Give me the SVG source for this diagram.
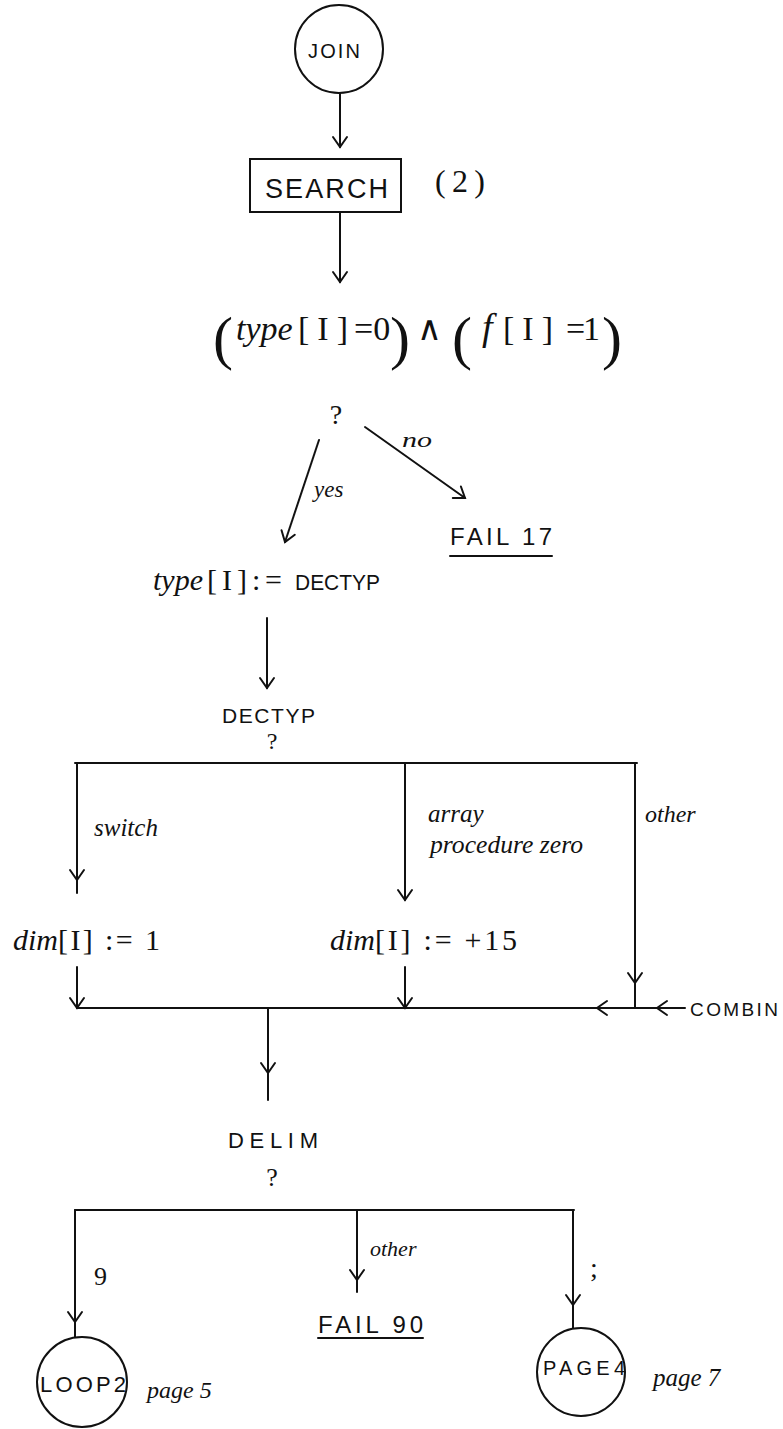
<svg xmlns="http://www.w3.org/2000/svg" width="783" height="1429" viewBox="0 0 783 1429">
<style>
.ln{stroke:#111;stroke-width:2;fill:none;stroke-linecap:round}
.nd{stroke:#111;stroke-width:2;fill:none}
.cap{font-family:"Liberation Sans",Arial,sans-serif;fill:#111}
.hw{font-family:"Liberation Serif","Times New Roman",serif;font-style:italic;fill:#111}
.mt{font-family:"Liberation Serif","Times New Roman",serif;fill:#111}
</style>
<defs>
<marker id="ah" viewBox="-12 -9 14 18" markerWidth="14" markerHeight="18" refX="0" refY="0" orient="auto" markerUnits="userSpaceOnUse">
<path d="M-10,-7 L0,0 L-10,7" fill="none" stroke="#111" stroke-width="2" stroke-linecap="round"/>
</marker>
</defs>
<rect width="783" height="1429" fill="#fff"/>

<g id="connectors">
<line class="ln" x1="340" y1="93" x2="340" y2="147" marker-end="url(#ah)"/>
<line class="ln" x1="340" y1="212" x2="340" y2="282" marker-end="url(#ah)"/>
<line class="ln" x1="319" y1="440" x2="285" y2="542" marker-end="url(#ah)"/>
<line class="ln" x1="365" y1="427" x2="465" y2="498" marker-end="url(#ah)"/>
<line class="ln" x1="267" y1="618" x2="267" y2="688" marker-end="url(#ah)"/>
<line class="ln" x1="75" y1="763" x2="637" y2="763"/>
<line class="ln" x1="77" y1="763" x2="77" y2="880" marker-end="url(#ah)"/>
<line class="ln" x1="77" y1="880" x2="77" y2="893"/>
<line class="ln" x1="405" y1="763" x2="405" y2="900" marker-end="url(#ah)"/>
<line class="ln" x1="635" y1="763" x2="635" y2="983" marker-end="url(#ah)"/>
<line class="ln" x1="635" y1="983" x2="635" y2="1008"/>
<line class="ln" x1="77" y1="967" x2="77" y2="1008" marker-end="url(#ah)"/>
<line class="ln" x1="405" y1="967" x2="405" y2="1008" marker-end="url(#ah)"/>
<line class="ln" x1="635" y1="1008" x2="597" y2="1008" marker-end="url(#ah)"/>
<line class="ln" x1="597" y1="1008" x2="77" y2="1008"/>
<line class="ln" x1="685" y1="1008" x2="657" y2="1008" marker-end="url(#ah)"/>
<line class="ln" x1="657" y1="1008" x2="635" y2="1008"/>
<line class="ln" x1="268" y1="1008" x2="268" y2="1073" marker-end="url(#ah)"/>
<line class="ln" x1="268" y1="1073" x2="268" y2="1100"/>
<line class="ln" x1="75" y1="1210" x2="574" y2="1210"/>
<line class="ln" x1="75" y1="1210" x2="75" y2="1322" marker-end="url(#ah)"/>
<line class="ln" x1="75" y1="1322" x2="75" y2="1337"/>
<line class="ln" x1="357" y1="1210" x2="357" y2="1280" marker-end="url(#ah)"/>
<line class="ln" x1="357" y1="1280" x2="357" y2="1292"/>
<line class="ln" x1="573" y1="1210" x2="573" y2="1305" marker-end="url(#ah)"/>
<line class="ln" x1="573" y1="1305" x2="573" y2="1328"/>
</g>

<g id="join">
<circle class="nd" cx="339" cy="49" r="44"/>
<text class="cap" x="308" y="58" font-size="20" textLength="52" lengthAdjust="spacing">JOIN</text>
</g>

<g id="search">
<rect class="nd" x="250" y="159" width="151" height="53"/>
<text class="cap" x="265" y="198" font-size="27" textLength="123" lengthAdjust="spacing">SEARCH</text>
<text class="mt" x="435" y="192" font-size="32" textLength="50" lengthAdjust="spacing">(2)</text>
</g>

<g id="condition">
<text class="mt" x="213" y="358" font-size="60">(</text>
<text class="hw" x="236" y="340" font-size="34">type</text>
<text class="mt" x="298" y="340" font-size="34" textLength="50" lengthAdjust="spacing">[I]</text>
<text class="mt" x="354" y="340" font-size="34">=0</text>
<text class="mt" x="390" y="358" font-size="60">)</text>
<text class="mt" x="417" y="340" font-size="34">∧</text>
<text class="mt" x="452" y="358" font-size="60">(</text>
<text class="hw" x="482" y="340" font-size="38">f</text>
<text class="mt" x="503" y="340" font-size="34" textLength="50" lengthAdjust="spacing">[I]</text>
<text class="mt" x="566" y="340" font-size="34" textLength="34" lengthAdjust="spacing">= 1</text>
<text class="mt" x="602" y="358" font-size="60">)</text>
<text class="mt" x="336" y="424" font-size="28" text-anchor="middle">?</text>
<text class="hw" x="314" y="497" font-size="23">yes</text>
<text class="hw" x="402" y="447" font-size="22" textLength="30" lengthAdjust="spacingAndGlyphs">no</text>
</g>

<g id="fail17">
<text class="cap" x="450" y="545" font-size="24" textLength="102" lengthAdjust="spacing">FAIL 17</text>
<line class="ln" x1="450" y1="556" x2="552" y2="556"/>
</g>

<g id="assign-type">
<text class="hw" x="153" y="590" font-size="30">type</text>
<text class="mt" x="207" y="590" font-size="30" textLength="40" lengthAdjust="spacing">[I]</text>
<text class="mt" x="252" y="590" font-size="30" textLength="30" lengthAdjust="spacing">:=</text>
<text class="cap" x="295" y="590" font-size="22" textLength="85" lengthAdjust="spacingAndGlyphs">DECTYP</text>
</g>

<g id="dectyp">
<text class="cap" x="222" y="723" font-size="21" textLength="93" lengthAdjust="spacing">DECTYP</text>
<text class="mt" x="272" y="749" font-size="24" text-anchor="middle">?</text>
<text class="hw" x="94" y="836" font-size="25">switch</text>
<text class="hw" x="428" y="822" font-size="25">array</text>
<text class="hw" x="430" y="853" font-size="25" textLength="153" lengthAdjust="spacingAndGlyphs">procedure zero</text>
<text class="hw" x="645" y="822" font-size="24">other</text>
</g>

<g id="dim1">
<text class="hw" x="13" y="950" font-size="30">dim</text>
<text class="mt" x="58" y="950" font-size="30" textLength="102" lengthAdjust="spacing">[I] := 1</text>
</g>

<g id="dim15">
<text class="hw" x="330" y="950" font-size="30">dim</text>
<text class="mt" x="375" y="950" font-size="30" textLength="142" lengthAdjust="spacing">[I] := +15</text>
</g>

<g id="combin">
<text class="cap" x="690" y="1016" font-size="19" textLength="88" lengthAdjust="spacing">COMBIN</text>
</g>

<g id="delim">
<text class="cap" x="228" y="1148" font-size="22" textLength="90" lengthAdjust="spacing">DELIM</text>
<text class="mt" x="272" y="1186" font-size="26" text-anchor="middle">?</text>
<text class="mt" x="94" y="1285" font-size="26">9</text>
<text class="hw" x="370" y="1256" font-size="22">other</text>
<text class="mt" x="590" y="1277" font-size="28">;</text>
</g>

<g id="fail90">
<text class="cap" x="318" y="1333" font-size="24" textLength="105" lengthAdjust="spacing">FAIL 90</text>
<line class="ln" x1="318" y1="1338" x2="423" y2="1338"/>
</g>

<g id="loop2">
<circle class="nd" cx="82" cy="1382" r="45"/>
<text class="cap" x="40" y="1392" font-size="22" textLength="86" lengthAdjust="spacing">LOOP2</text>
<text class="hw" x="147" y="1398" font-size="24">page 5</text>
</g>

<g id="page4">
<circle class="nd" cx="581" cy="1372" r="44"/>
<text class="cap" x="543" y="1375" font-size="20" textLength="82" lengthAdjust="spacing">PAGE4</text>
<text class="hw" x="653" y="1386" font-size="25">page 7</text>
</g>
</svg>
